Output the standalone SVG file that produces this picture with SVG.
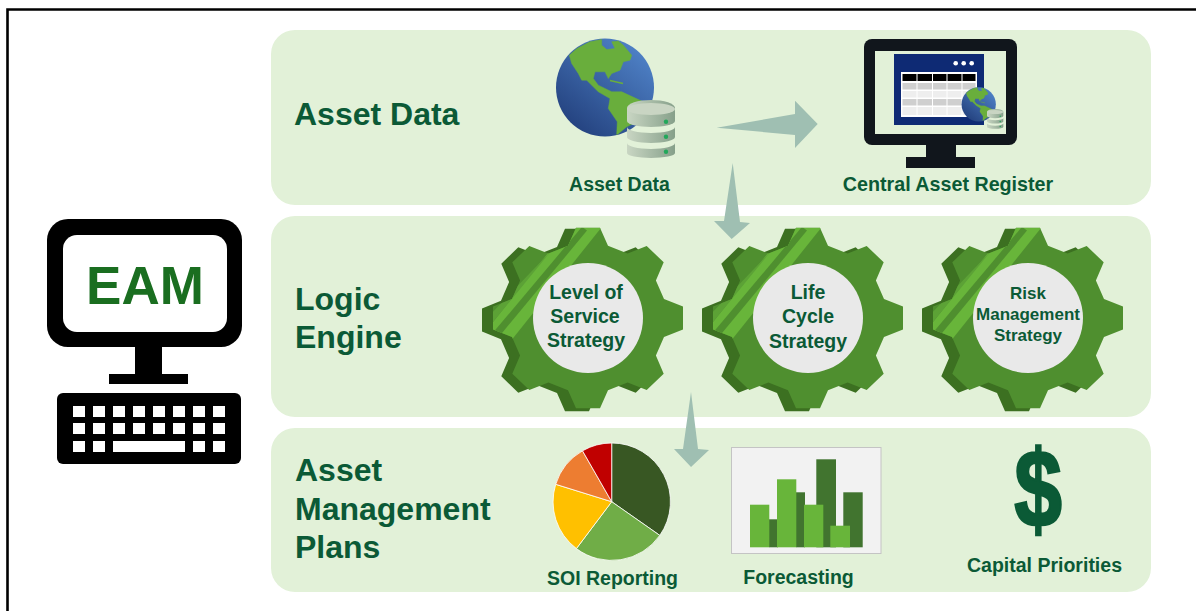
<svg xmlns="http://www.w3.org/2000/svg" width="1196" height="611" viewBox="0 0 1196 611">
<style>
text{font-family:"Liberation Sans",Arial,sans-serif;font-weight:bold;fill:#0b5a36}
.h{font-size:32px}.l{font-size:19.5px}.m{text-anchor:middle}
.panel{fill:#e2f1d8}.arrow{fill:#9fbfb2}.k{fill:#fff}.ink{fill:#000}.dk{fill:#11161c}
.lb{fill:#68b53a}.db{fill:#41742f}
</style>
<defs>
<linearGradient id="sea" x1="0.8" y1="0.1" x2="0.15" y2="0.9"><stop offset="0" stop-color="#4d7fc4"/><stop offset="1" stop-color="#24427f"/></linearGradient>
<linearGradient id="cyl" x1="0" y1="0" x2="1" y2="0"><stop offset="0" stop-color="#c9d6c3"/><stop offset="1" stop-color="#86a08a"/></linearGradient>
<polygon id="gearshape" points="-12,-95 12,-95 20,-76 39.600,-67.900 58.700,-75.700 75.700,-58.700 67.900,-39.600 76,-20 95,-12 95,12 76,20 67.900,39.600 75.700,58.700 58.700,75.700 39.600,67.900 20,76 12,95 -12,95 -20,76 -39.600,67.900 -58.700,75.700 -75.700,58.700 -67.900,39.600 -76,20 -95,12 -95,-12 -76,-20 -67.900,-39.600 -75.700,-58.700 -58.700,-75.700 -39.600,-67.900 -20,-76"/>
<clipPath id="gearclip"><use href="#gearshape"/></clipPath>
<g id="gear">
<g transform="translate(-11,2) scale(1,.96)"><use href="#gearshape" fill="#3c7021"/></g>
<g transform="scale(1,.95)">
<use href="#gearshape" fill="#4f8f2f"/>
<g clip-path="url(#gearclip)">
<polygon points="-16,-100 17,-100 -77,24 -101,12" fill="#68b53a"/>
<polygon points="-22,-87 -110,10 -101,12 -14,-100" fill="#5ca236"/>
<polygon points="-93,13 -6,-96 -1,-92 -87,17" fill="#4f8f2f"/>
</g>
</g>
<circle r="55" fill="#e9e9e9"/>
</g>
<g id="globe">
<circle r="49" fill="url(#sea)"/>
<path fill="#69ae3c" stroke="#69ae3c" stroke-width=".5" stroke-linejoin="round" d="M-35.700,-32.300 L-28,-39 L-15,-45.700 L-3.300,-48 L-3.300,-42.300 L1.700,-38 L10,-39 L6.700,-45.700 L13.300,-46.500 L18.300,-42.300 L26.700,-32.300 L25,-27.300 L18.300,-25.700 L15,-17.300 L6.700,-14 L3.300,-9 L0,-15.700 L-10,-15.700 L-11.700,-9 L-6.700,-2.300 L0,1 L6.700,4.300 L16.700,4.300 L38.300,14.300 L35,32.700 L21.700,39.300 L13,46.500 L11.700,47 L12.300,34.300 L3.300,21 L5,11 L-6.700,4.300 L-18.300,-7.300 L-23.300,-7.300 L-26.700,-14 L-33.300,-24 Z"/>
<path d="M5,-7 L18,-4" stroke="#69ae3c" stroke-width="1.500" fill="none"/>
</g>
<g id="dbstack">
<path d="M0,5 A24,8 0 0 1 48,5 V18 A24,6 0 0 1 0,18 Z" fill="url(#cyl)"/>
<path d="M0,24 A24,6 0 0 0 48,24 V34 A24,6 0 0 1 0,34 Z" fill="url(#cyl)"/>
<path d="M0,40 A24,6 0 0 0 48,40 V50 A24,5 0 0 1 0,50 Z" fill="url(#cyl)"/>
<ellipse cx="24" cy="6" rx="24" ry="6" fill="#c9d5c3"/>
<circle cx="39" cy="18.700" r="2.200" fill="#22a85a"/><circle cx="39" cy="33.700" r="2.200" fill="#22a85a"/><circle cx="39" cy="48.700" r="2.200" fill="#22a85a"/>
</g>
</defs>
<rect width="1196" height="611" fill="#fff"/>
<g id="frame"><path d="M7.500,611 V9.500 H1196" fill="none" stroke="#000" stroke-width="2.600"/></g>
<g id="panel-asset-data"><rect class="panel" x="271" y="30" width="880" height="175" rx="24"/><text class="h" x="294" y="125">Asset Data</text></g>
<g id="panel-logic-engine"><rect class="panel" x="271" y="216" width="880" height="201" rx="24"/><text class="h" x="295" y="310">Logic</text><text class="h" x="295" y="348">Engine</text></g>
<g id="panel-plans"><rect class="panel" x="271" y="428" width="880" height="164" rx="24"/><text class="h" x="295" y="481">Asset</text><text class="h" x="295" y="520">Management</text><text class="h" x="295" y="558">Plans</text></g>
<g id="eam">
<rect class="ink" x="47" y="219" width="195" height="128" rx="21"/>
<rect class="k" x="63" y="235" width="164" height="97" rx="14"/>
<rect class="ink" x="135" y="346" width="27" height="29"/>
<rect class="ink" x="109" y="374" width="79" height="10"/>
<rect class="ink" x="57" y="393" width="184" height="71" rx="6"/>
<g class="k">
<rect x="73" y="406" width="12" height="11"/><rect x="93" y="406" width="12" height="11"/><rect x="113" y="406" width="12" height="11"/><rect x="133" y="406" width="12" height="11"/><rect x="153" y="406" width="12" height="11"/><rect x="173" y="406" width="12" height="11"/><rect x="193" y="406" width="12" height="11"/><rect x="213" y="406" width="12" height="11"/>
<rect x="73" y="423" width="12" height="11"/><rect x="93" y="423" width="12" height="11"/><rect x="113" y="423" width="12" height="11"/><rect x="133" y="423" width="12" height="11"/><rect x="153" y="423" width="12" height="11"/><rect x="173" y="423" width="12" height="11"/><rect x="193" y="423" width="12" height="11"/><rect x="213" y="423" width="12" height="11"/>
<rect x="73" y="441" width="12" height="11"/><rect x="93" y="441" width="12" height="11"/><rect x="113" y="441" width="72" height="11"/><rect x="193" y="441" width="12" height="11"/><rect x="213" y="441" width="12" height="11"/>
</g>
<text x="145" y="304" text-anchor="middle" font-size="53" style="fill:#1a6e20">EAM</text>
</g>
<g id="asset-data">
<use href="#globe" x="605" y="87.500"/>
<use href="#dbstack" x="627" y="103"/>
<text class="l m" x="619.500" y="191">Asset Data</text>
</g>
<g id="central-asset-register">
<rect class="dk" x="864" y="39" width="153" height="106" rx="8"/>
<rect class="panel" x="875" y="51" width="131" height="83"/>
<rect x="926" y="144" width="30" height="14" class="dk"/>
<rect x="906" y="157" width="69" height="11" class="dk"/>
<rect x="894" y="54" width="90" height="71" fill="#0e2a74"/>
<circle cx="955.700" cy="63.300" r="2.300" fill="#fff"/><circle cx="963.700" cy="63.300" r="2.300" fill="#fff"/><circle cx="971.700" cy="63.300" r="2.300" fill="#fff"/>
<rect x="901" y="72" width="76" height="45" fill="#fff"/>
<rect x="902.500" y="74" width="73" height="7" fill="#000"/>
<rect x="902.500" y="83" width="73" height="6.500" fill="#cfcfcf"/>
<rect x="902.500" y="91" width="73" height="6.500" fill="#eeeeee"/>
<rect x="902.500" y="99" width="73" height="6.500" fill="#cfcfcf"/>
<rect x="902.500" y="107" width="73" height="8" fill="#eeeeee"/>
<path d="M917,72 V117 M932.500,72 V117 M947,72 V117 M962,72 V117" stroke="#fff" stroke-width="1"/>
<use href="#globe" transform="translate(978.700,104.300) scale(.35)"/>
<use href="#dbstack" transform="translate(987,110) scale(.34)"/>
<text class="l" x="948" y="191" text-anchor="middle" style="font-size:19.700px">Central Asset Register</text>
</g>
<g id="gear-level-of-service">
<use href="#gear" x="588" y="318"/>
<text class="l m" x="586" y="299">Level of</text><text class="l m" x="585" y="323">Service</text><text class="l m" x="586" y="347">Strategy</text>
</g>
<g id="gear-life-cycle">
<use href="#gear" x="808" y="318"/>
<text class="l m" x="808" y="299">Life</text><text class="l m" x="808" y="323">Cycle</text><text class="l m" x="808" y="348">Strategy</text>
</g>
<g id="gear-risk-management">
<use href="#gear" x="1028" y="318"/>
<text class="m" x="1028" y="299" font-size="17">Risk</text><text class="m" x="1028" y="320" font-size="17">Management</text><text class="m" x="1028" y="341" font-size="17">Strategy</text>
</g>
<g id="soi-reporting">
<path d="M611.700,501.700 V443 A58.700,58.700 0 0 1 659.800,535.400 Z" fill="#385723" stroke="#fff" stroke-width=".8"/>
<path d="M611.700,501.700 L659.800,535.400 A58.700,58.700 0 0 1 576.400,548.600 Z" fill="#70ad47" stroke="#fff" stroke-width=".8"/>
<path d="M611.700,501.700 L576.400,548.600 A58.700,58.700 0 0 1 555.700,484.300 Z" fill="#ffc000" stroke="#fff" stroke-width=".8"/>
<path d="M611.700,501.700 L555.700,484.300 A58.700,58.700 0 0 1 582.500,450.800 Z" fill="#ed7d31" stroke="#fff" stroke-width=".8"/>
<path d="M611.700,501.700 L582.500,450.800 A58.700,58.700 0 0 1 611.700,443 Z" fill="#c00000" stroke="#fff" stroke-width=".8"/>
<text class="l m" x="612.500" y="585">SOI Reporting</text>
</g>
<g id="forecasting">
<rect x="731.500" y="447.500" width="149.500" height="106" fill="#f2f2f2" stroke="#c4c4c4" stroke-width="1"/>
<rect class="db" x="769" y="519.300" width="9" height="28"/>
<rect class="db" x="796" y="492.300" width="9" height="55"/>
<rect class="db" x="816.300" y="459.300" width="19.700" height="88"/>
<rect class="db" x="843.300" y="492.300" width="19.400" height="55"/>
<rect class="lb" x="750" y="504.700" width="19.300" height="42.600"/>
<rect class="lb" x="777" y="479.300" width="19.300" height="68"/>
<rect class="lb" x="804" y="504.700" width="19.300" height="42.600"/>
<rect class="lb" x="830.300" y="525.700" width="19.700" height="21.600"/>
<text class="l m" x="798.500" y="584">Forecasting</text>
</g>
<g id="capital-priorities">
<text transform="translate(1038,527) scale(.78,1)" text-anchor="middle" font-size="110" style="stroke:#0b5a36;stroke-width:2.500">$</text>
<text class="l m" x="1044.500" y="571.500">Capital Priorities</text>
</g>
<g id="connectors">
<polygon class="arrow" points="716.700,127.700 795,114 795,100.700 817.700,124 795,148 795,135"/>
<polygon class="arrow" points="732.700,163 740,222 750,223 731.700,239 714,221 724,221"/>
<polygon class="arrow" points="691,392 698,449 709,450 691,467 674,449 683,449"/>
</g>
</svg>
